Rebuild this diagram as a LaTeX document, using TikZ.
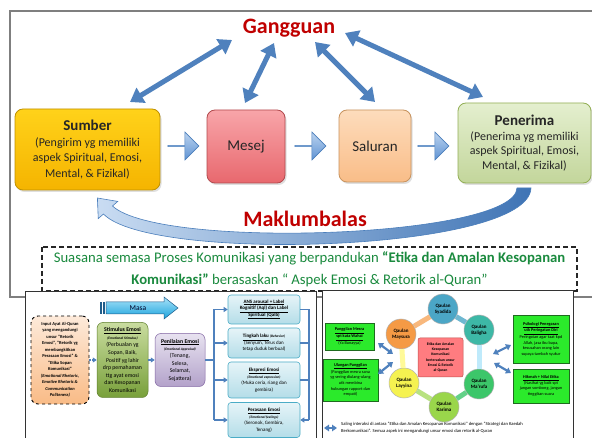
\documentclass[tikz,border=0pt]{standalone}
\usepackage{fontspec}
\setmainfont{Carlito}
\usetikzlibrary{arrows.meta,shapes.arrows,shadows}
\definecolor{gred}{HTML}{C00000}
\definecolor{gblue}{HTML}{4F81BD}
\definecolor{txtgreen}{HTML}{1A8A3E}
\definecolor{framegray}{HTML}{7F7F7F}
\definecolor{sumT}{HTML}{FFD21A}
\definecolor{sumB}{HTML}{F5B400}
\definecolor{sumD}{HTML}{BF9000}
\definecolor{mesT}{HTML}{F8A5A9}
\definecolor{mesB}{HTML}{E8686E}
\definecolor{mesD}{HTML}{B24A4E}
\definecolor{salT}{HTML}{FDDCBC}
\definecolor{salB}{HTML}{F9BD88}
\definecolor{salD}{HTML}{C8935E}
\definecolor{penT}{HTML}{E4EFCF}
\definecolor{penB}{HTML}{C3D69B}
\definecolor{penD}{HTML}{93AF55}
\definecolor{baT}{HTML}{BBD3EF}
\definecolor{baB}{HTML}{5F93D3}
\definecolor{baD}{HTML}{4A7EBB}
\definecolor{bandL}{HTML}{C9DCF2}
\definecolor{bandR}{HTML}{3F74B5}
\definecolor{inT}{HTML}{FDEADA}
\definecolor{inB}{HTML}{F9BB86}
\definecolor{stT}{HTML}{C9DC9F}
\definecolor{stB}{HTML}{78A03A}
\definecolor{stD}{HTML}{5E7F2C}
\definecolor{plT}{HTML}{E8E2F0}
\definecolor{plB}{HTML}{B3A2CA}
\definecolor{plD}{HTML}{8064A2}
\definecolor{rbT}{HTML}{E6F4F8}
\definecolor{rbB}{HTML}{B4DDE8}
\definecolor{rbD}{HTML}{4BACC6}
\definecolor{masaT}{HTML}{A8E2F8}
\definecolor{masaB}{HTML}{1AA3DD}
\definecolor{masaD}{HTML}{1F5C8A}
\definecolor{brightgreen}{HTML}{2BEA2B}
\definecolor{bgD}{HTML}{1F6B1F}
\definecolor{cSyad}{HTML}{4BA6C6}
\definecolor{cBal}{HTML}{3DB8A6}
\definecolor{cMar}{HTML}{3CC66A}
\definecolor{cKar}{HTML}{9AD64B}
\definecolor{cLay}{HTML}{F5F250}
\definecolor{cMay}{HTML}{F59A45}
\definecolor{etika}{HTML}{FF7C80}
\definecolor{etikaD}{HTML}{C0504D}
\begin{document}
\begin{tikzpicture}[x=1pt,y=-1pt,
 topbox/.style={rounded corners=8pt,line width=0.8pt,align=center,inner sep=0pt,text=black!85,
   drop shadow={shadow xshift=1.5pt,shadow yshift=-2pt,opacity=0.25}},
 boxarrow/.style={single arrow,single arrow head extend=6pt,minimum height=31pt,minimum width=28pt,inner sep=0pt,top color=baT,bottom color=baB,draw=baD,line width=0.6pt},
 garrow/.style={draw=gblue,line width=5pt,{Triangle[length=13pt,width=17pt]}-{Triangle[length=13pt,width=17pt]}},
 bigtitle/.style={font=\fontsize{22}{24}\selectfont\bfseries,text=gred,inner sep=0pt},
 lbox/.style={align=center,inner sep=0pt,line width=0.5pt},
 rbox/.style={rounded corners=3pt,align=center,inner sep=0pt,top color=rbT,bottom color=rbB,draw=rbD,line width=0.6pt,minimum width=72pt,font=\fontsize{5}{6.6}\selectfont},
 larrow/.style={draw=gblue,line width=1.6pt,-{Triangle[length=4pt,width=5pt]}},
 lline/.style={draw=gblue,line width=1.6pt},
 qcircle/.style={circle,minimum size=30pt,inner sep=0pt,align=center,font=\fontsize{5}{6}\selectfont\bfseries,draw=white!70!black,line width=0.5pt},
 ring/.style={line width=5pt},
 gbox/.style={align=center,inner sep=0pt,fill=brightgreen,draw=bgD,line width=0.6pt,font=\fontsize{4.3}{5.6}\selectfont},
 sarrow/.style={draw=gblue,line width=2.2pt,{Triangle[length=5pt,width=6.5pt]}-{Triangle[length=5pt,width=6.5pt]}}
]
\useasboundingbox (0,0) rectangle (592,438);
\fill[white] (0,0) rectangle (592,438);
% outer frame
\draw[framegray,line width=1.4pt] (10,11) rectangle (610,297);

% titles
\node[bigtitle] (gang) at (289,28) {Gangguan};
\node[bigtitle] (makl) at (305,219) {Maklumbalas};

% main boxes
\node[topbox,top color=sumT,bottom color=sumB,draw=sumD,minimum width=145pt,minimum height=81pt,font=\fontsize{12}{15.5}\selectfont] (sumber) at (87.5,149.5)
 {{\fontsize{15}{17}\selectfont\bfseries Sumber}\\ (Pengirim yg memiliki\\ aspek Spiritual, Emosi,\\ Mental, \& Fizikal)};
\node[topbox,top color=mesT,bottom color=mesB,draw=mesD,minimum width=78pt,minimum height=73pt,font=\fontsize{15}{17}\selectfont] (mesej) at (246,146.5) {Mesej};
\node[topbox,top color=salT,bottom color=salB,draw=salD,minimum width=72pt,minimum height=72pt,font=\fontsize{15}{17}\selectfont] (saluran) at (375,146) {Saluran};
\node[topbox,top color=penT,bottom color=penB,draw=penD,minimum width=133pt,minimum height=80pt,font=\fontsize{12}{14.8}\selectfont] (penerima) at (524.5,143)
 {{\fontsize{15}{17}\selectfont\bfseries Penerima}\\ (Penerima yg memiliki\\ aspek Spiritual, Emosi,\\ Mental, \& Fizikal)};

% block arrows
\node[boxarrow] (ba1) at (183,146) {};
\node[boxarrow] (ba2) at (310,146) {};
\node[boxarrow] (ba3) at (433,146) {};

% Gangguan arrows
\coordinate (g1) at (232,40);  \coordinate (t1) at (130,102);
\coordinate (g2) at (274,43);  \coordinate (t2) at (245,103);
\coordinate (g3) at (315,42);  \coordinate (t3) at (375,102);
\coordinate (g4) at (345,33);  \coordinate (t4) at (483,97);
\draw[garrow] (g1) -- (t1);
\draw[garrow] (g2) -- (t2);
\draw[garrow] (g3) -- (t3);
\draw[garrow] (g4) -- (t4);

% feedback curved arrow
\shade[left color=bandL,right color=bandR,draw=baD,line width=0.6pt]
 (517,188) -- (531,188) .. controls (529,252) and (150,263) .. (103.5,214)
 -- (98.25,218.6) -- (97.4,198) -- (117.75,201.4) -- (112.5,206)
 .. controls (160,250) and (515,238) .. (517,188) -- cycle;

% dashed box
\draw[black!85,line width=1.2pt,dash pattern=on 5pt off 3pt] (42,247) rectangle (577,291);
\node[font=\fontsize{14.7}{22}\selectfont,text=txtgreen,align=center,inner sep=0pt] (suasana) at (309.5,269)
 {Suasana semasa Proses Komunikasi yang berpandukan \textbf{“Etika dan Amalan Kesopanan}\\ \textbf{Komunikasi”} berasaskan “ Aspek Emosi \& Retorik al-Quran”};

% ===== lower-left picture =====
\draw[black!80,fill=white,line width=0.8pt] (25,291) rectangle (316,445);
\fill[masaD] (100,302) rectangle (101.5,314);
\fill[masaD] (103,302) rectangle (104.5,314);
\shade[top color=masaT,bottom color=masaB,draw=masaD,line width=0.5pt] (106,302) -- (164,302) -- (164,297) -- (178,308) -- (164,319) -- (164,314) -- (106,314) -- cycle;
\node[font=\fontsize{7.5}{8}\selectfont,text=black!85!blue] (masa) at (138,308.5) {Masa};

\node[lbox,dashed,draw=black,line width=0.9pt,top color=inT,bottom color=inB,minimum width=58pt,minimum height=88pt,rounded corners=7pt,font=\fontsize{4.5}{6.5}\selectfont\bfseries] (input) at (60,360)
 {Input Ayat Al-Quran\\ yang mengandungi\\ unsur "Retorik\\ Emosi", "Retorik yg\\ membangkitkan\\ Perasaan Emosi" \&\\ "Etika Sopan\\ Komunikasi"\\ \textit{(Emotional Rhetoric,}\\ \textit{Emotive Rhetoric \&}\\ \textit{Communication}\\ \textit{Politeness)}};
\node[lbox,top color=stT,bottom color=stB,draw=stD,minimum width=51pt,minimum height=75pt,rounded corners=6pt,font=\fontsize{5.8}{7.6}\selectfont] (stim) at (122.5,360)
 {\underline{\textbf{Stimulus Emosi}}\\ {\fontsize{3.5}{5}\selectfont\bfseries\itshape (Emotional Stimulus)}\\ (Perbualan yg\\ Sopan, Baik,\\ Positif yg lahir\\ drp pemahaman\\ ttg ayat emosi\\ dan Kesopanan\\ Komunikasi};
\node[lbox,top color=plT,bottom color=plB,draw=plD,minimum width=50pt,minimum height=53pt,rounded corners=6pt,font=\fontsize{5.8}{7.4}\selectfont] (pen) at (180,360)
 {\underline{\textbf{Penilaian Emosi}}\\ {\fontsize{3.5}{5}\selectfont\bfseries\itshape (Emotional Appraisal)}\\ (Tenang,\\ Selesa,\\ Selamat,\\ Sejattera)};

\node[rbox,minimum height=29pt] (ans) at (264,309.5)
 {\underline{\textbf{ANS arousal + Label}}\\ \underline{\textbf{Kognitif (Aql) dan Label}}\\ \underline{\textbf{Spiritual (Qalb)}}};
\node[rbox,minimum height=30pt] (tl) at (264,343)
 {\underline{\textbf{Tingkah laku}} {\fontsize{3.5}{5}\selectfont\bfseries\itshape (Behavior)}\\ (Senyum, Terus dan\\ tetap duduk berbual)};
\node[rbox,minimum height=36pt] (ek) at (264,380)
 {\underline{\textbf{Ekspresi Emosi}}\\ {\fontsize{3.5}{5}\selectfont\bfseries\itshape (Emotional expression)}\\ (Muka ceria, riang dan\\ gembira)};
\node[rbox,minimum height=35pt] (pe) at (264,420)
 {\underline{\textbf{Perasaan Emosi}}\\ {\fontsize{3.5}{5}\selectfont\bfseries\itshape (Emotional feelings)}\\ (Seronok, Gembira,\\ Tenang)};

\coordinate (b0) at (214,360);
\coordinate (b1) at (214,309.5);
\coordinate (b2) at (214,343);
\coordinate (b3) at (214,380);
\coordinate (b4) at (214,420);
\coordinate (r1) at (309,309.5);
\coordinate (r2) at (309,343);
\coordinate (r3) at (309,380);
\coordinate (r4) at (309,420);
\draw[larrow,dash pattern=on 1.6pt off 1.2pt] (input.east) -- (stim.west);
\draw[larrow] (stim.east) -- (pen.west);
\draw[lline] (pen.east) -- (b0);
\draw[lline] (b1) -- (b4);
\draw[larrow] (b1) -- (ans.west);
\draw[larrow] (b2) -- (tl.west);
\draw[larrow] (b3) -- (ek.west);
\draw[larrow] (b4) -- (pe.west);
\draw[lline] (ans.east) -- (r1) -- (r4);
\draw[lline] (tl.east) -- (r2);
\draw[lline] (ek.east) -- (r3);
\draw[larrow] (r4) -- (pe.east);

% ===== lower-right picture =====
\draw[black!80,fill=white,line width=0.8pt] (322,290) rectangle (573,445);
\node[qcircle,fill=cSyad] (syad) at (443,309) {Qaulan\\Syadida};
\node[qcircle,fill=cBal] (bal) at (479,330) {Qaulan\\Baligha};
\node[qcircle,fill=cMar] (mar) at (479,384) {Qaulan\\Ma'rufa};
\node[qcircle,fill=cKar] (kar) at (444,407) {Qaulan\\Karima};
\node[qcircle,fill=cLay] (lay) at (404,383) {Qaulan\\Layyina};
\node[qcircle,fill=cMay] (may) at (401,334) {Qaulan\\Maysura};
\draw[ring,draw=cMay!70!white] (syad) -- (may);
\draw[ring,draw=cSyad!80!white] (syad) -- (bal);
\draw[ring,draw=cyan!25!white] (bal) -- (mar);
\draw[ring,draw=cMar!80!white] (mar) -- (kar);
\draw[ring,draw=cKar!70!white] (kar) -- (lay);
\draw[ring,draw=yellow!40!white] (lay) -- (may);
\node[fill=etika,draw=etikaD,line width=0.5pt,rounded corners=2pt,minimum width=45pt,minimum height=39pt,align=center,inner sep=0pt,font=\fontsize{3.8}{5.3}\selectfont\bfseries] (etk) at (440.5,357.5)
 {Etika dan Amalan\\ Kesopanan\\ Komunikasi\\ berteraskan unsur\\ Emosi \& Retorik\\ al-Quran};

\node[gbox,minimum width=49pt,minimum height=27pt] (pa) at (349.5,336.5)
 {\underline{\textbf{Panggilan Mesra}}\\ \underline{\textbf{spt kata Wahai}}\\ (Ya Bunayya)};
\node[gbox,minimum width=55pt,minimum height=42pt] (pb) at (350.5,380)
 {\underline{\textbf{Ulangan Panggilan}}\\ (Panggilan mesra sana\\ yg sering diulang-ulang\\ utk membina\\ hubungan rapport dan\\ empati)};
\node[gbox,minimum width=56pt,minimum height=48pt] (pc) at (541,339)
 {\underline{\textbf{Psikologi Penegasan}}\\ \underline{\textbf{utk Peringatan Diri}}\\ Peringatan agar taat kpd\\ Allah, jasa ibu bapa,\\ kesusahan orang lain\\ supaya tambah syukur};
\node[gbox,minimum width=56pt,minimum height=34pt] (pd) at (541,386)
 {\underline{\textbf{Hikmah + Nilai Etika}}\\ (Nasihat yg baik spt\\ jangan sombong, jangan\\ tinggikan suara};

\coordinate (a1) at (378,343); \coordinate (a2) at (393,354);
\coordinate (a3) at (378,374); \coordinate (a4) at (393,362);
\coordinate (a5) at (511,345); \coordinate (a6) at (493,354);
\coordinate (a7) at (511,373); \coordinate (a8) at (494,363);
\draw[sarrow] (a1) -- (a2);
\draw[sarrow] (a3) -- (a4);
\draw[sarrow] (a5) -- (a6);
\draw[sarrow] (a7) -- (a8);

\coordinate (lg1) at (324,428); \coordinate (lg2) at (337,428);
\draw[sarrow] (lg1) -- (lg2);
\node[anchor=west,align=left,inner sep=0pt,font=\fontsize{4.6}{6.6}\selectfont] (legend) at (341,428)
 {Saling interaksi di antara “Etika dan Amalan Kesopanan Komunikasi” dengan “Strategi dan Kaedah\\ Berkomunikasi”. Semua aspek ini mengandungi unsur emosi dan retorik al-Quran};
\end{tikzpicture}
\end{document}
